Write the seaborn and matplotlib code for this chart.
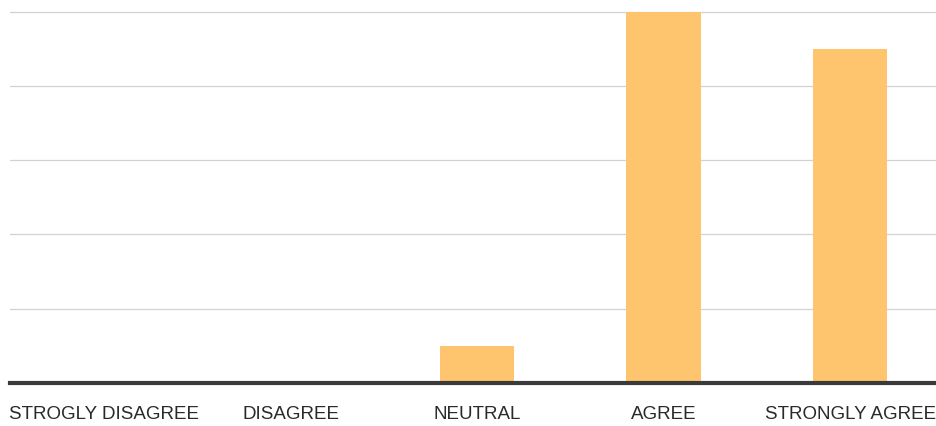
import matplotlib
matplotlib.use("Agg")
import matplotlib.pyplot as plt
import seaborn as sns
import pandas as pd

categories = ["STROGLY DISAGREE", "DISAGREE", "NEUTRAL", "AGREE", "STRONGLY AGREE"]
values = [0, 0, 5, 50, 45]

df = pd.DataFrame({"category": categories, "value": values})

sns.set_theme(style="white")
plt.rcParams['font.family'] = ['Liberation Sans Narrow', 'Liberation Sans', 'DejaVu Sans']

fig = plt.figure(figsize=(9.37, 4.27), dpi=100)
ax = fig.add_axes([10/937, 43/427, 1 - 10/937, 384/427])

sns.barplot(data=df, x="category", y="value", color="#FEC56E", width=0.4,
            saturation=1, linewidth=0, edgecolor="none", ax=ax, zorder=3)

ax.set_xlim(-0.504, 4.466)
ax.set_ylim(0, 51.7)
ax.set_yticks([10, 20, 30, 40, 50])
ax.yaxis.grid(True, color="#d2d2d2", linewidth=0.9, zorder=0)
ax.set_yticklabels([])
ax.tick_params(axis="y", length=0)
ax.tick_params(axis="x", length=0, pad=16, labelsize=13.5, labelcolor="#2a2a2a")
ax.set_xlabel("")
ax.set_ylabel("")
for s in ["top", "right", "left"]:
    ax.spines[s].set_visible(False)
ax.spines["bottom"].set_color("#3a3a3a")
ax.spines["bottom"].set_linewidth(3)
ax.spines["bottom"].set_zorder(4)

fig.savefig("out.png", dpi=100, facecolor="white")
